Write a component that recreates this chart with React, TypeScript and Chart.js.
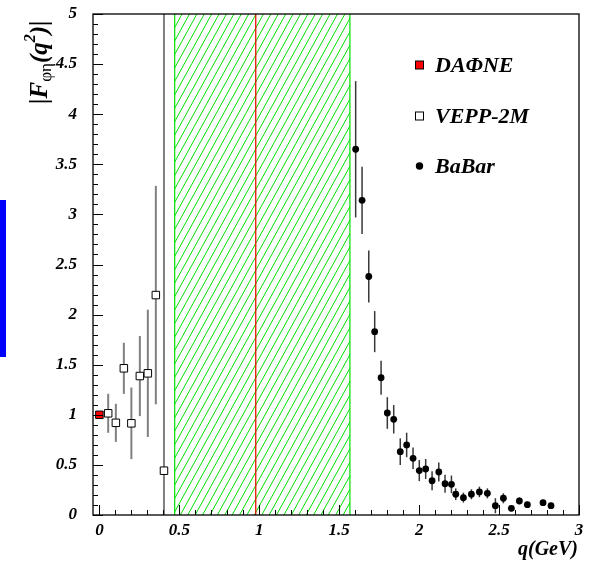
import React, { useEffect, useRef } from "react";
import { Chart, registerables } from "chart.js";

Chart.register(...registerables);

// Axis tick values
const X_TICKS = [0, 0.5, 1, 1.5, 2, 2.5, 3];
const Y_TICKS = [0, 0.5, 1, 1.5, 2, 2.5, 3, 3.5, 4, 4.5, 5];

// Kinematic region (hatched band) and the red reference line
const BAND_Q = [0.471, 1.567];
const RED_LINE_Q = 0.978;

// DAΦNE
const DAFNE_Q = [0];
const DAFNE_F = [1.0];
const DAFNE_ERR = [0.02];

// VEPP-2M
const VEPP_Q = [0.055, 0.103, 0.153, 0.2, 0.253, 0.303, 0.353, 0.404];
const VEPP_F = [1.015, 0.92, 1.464, 0.915, 1.387, 1.414, 2.195, 0.442];
const VEPP_ERR = [0.195, 0.19, 0.255, 0.357, 0.4, 0.635, 1.09, 5.0];

// BaBar
const BABAR_Q = [
  1.603, 1.643, 1.685, 1.722, 1.762, 1.801, 1.841, 1.882, 1.922, 1.962, 2.001,
  2.041, 2.081, 2.123, 2.162, 2.202, 2.229, 2.277, 2.327, 2.377, 2.427, 2.477,
  2.527, 2.577, 2.627, 2.677, 2.775, 2.825,
];
const BABAR_F = [
  3.65, 3.14, 2.38, 1.83, 1.37, 1.018, 0.955, 0.632, 0.699, 0.566, 0.443,
  0.459, 0.342, 0.429, 0.312, 0.306, 0.207, 0.173, 0.207, 0.23, 0.216, 0.093,
  0.167, 0.067, 0.14, 0.103, 0.123, 0.093,
];
const BABAR_ERR = [
  0.68, 0.335, 0.26, 0.205, 0.17, 0.158, 0.142, 0.133, 0.122, 0.108, 0.105,
  0.1, 0.095, 0.095, 0.09, 0.088, 0.058, 0.05, 0.05, 0.053, 0.05, 0.075,
  0.05, 0.03, 0.035, 0.03, 0.03, 0.03,
];

const SERIF = '"Liberation Serif", "Times New Roman", serif';
const TICK_FONT = { family: SERIF, size: 17, style: "italic" as const, weight: "bold" as const };

const toPoints = (xs: number[], ys: number[]) => xs.map((x, i) => ({ x, y: ys[i] }));

const ERRORS: { [label: string]: { err: number[]; color: string; width: number } } = {
  "DAΦNE": { err: DAFNE_ERR, color: "#606060", width: 1.5 },
  "VEPP-2M": { err: VEPP_ERR, color: "#808080", width: 2 },
  BaBar: { err: BABAR_ERR, color: "#383838", width: 1.5 },
};

const decorPlugin = {
  id: "decor",
  beforeDatasetsDraw(chart: any) {
    const { ctx, chartArea: a, scales } = chart;
    const xs = scales.x;
    const ys = scales.y;
    ctx.save();
    ctx.beginPath();
    ctx.rect(a.left, a.top, a.right - a.left, a.bottom - a.top);
    ctx.clip();

    // hatched band
    const bx0 = xs.getPixelForValue(BAND_Q[0]);
    const bx1 = xs.getPixelForValue(BAND_Q[1]);
    ctx.save();
    ctx.beginPath();
    ctx.rect(bx0, a.top, bx1 - bx0, a.bottom - a.top);
    ctx.clip();
    ctx.strokeStyle = "#00e000";
    ctx.lineWidth = 1;
    const h = a.bottom - a.top;
    const slant = h * 0.55;
    for (let x = bx0 - slant; x < bx1 + 8; x += 7.4) {
      ctx.beginPath();
      ctx.moveTo(x, a.bottom);
      ctx.lineTo(x + slant, a.top);
      ctx.stroke();
    }
    ctx.restore();
    ctx.strokeStyle = "#00e000";
    ctx.lineWidth = 1.2;
    ctx.beginPath();
    ctx.moveTo(bx0, a.top);
    ctx.lineTo(bx0, a.bottom);
    ctx.moveTo(bx1, a.top);
    ctx.lineTo(bx1, a.bottom);
    ctx.stroke();

    // red line
    const rx = xs.getPixelForValue(RED_LINE_Q);
    ctx.strokeStyle = "#e81000";
    ctx.lineWidth = 1.3;
    ctx.beginPath();
    ctx.moveTo(rx, a.top);
    ctx.lineTo(rx, a.bottom);
    ctx.stroke();

    // error bars
    chart.data.datasets.forEach((ds: any) => {
      const e = ERRORS[ds.label];
      if (!e) return;
      ctx.strokeStyle = e.color;
      ctx.lineWidth = e.width;
      ds.data.forEach((p: any, i: number) => {
        const px = xs.getPixelForValue(p.x);
        ctx.beginPath();
        ctx.moveTo(px, ys.getPixelForValue(p.y - e.err[i]));
        ctx.lineTo(px, ys.getPixelForValue(p.y + e.err[i]));
        ctx.stroke();
      });
    });
    ctx.restore();
  },
  afterDatasetsDraw(chart: any) {
    const { ctx, chartArea: a, scales } = chart;
    const xs = scales.x;
    const ys = scales.y;
    ctx.save();

    // frame
    ctx.strokeStyle = "#000";
    ctx.lineWidth = 1.3;
    ctx.strokeRect(a.left, a.top, a.right - a.left, a.bottom - a.top);

    // inward ticks
    ctx.lineWidth = 1;
    ctx.beginPath();
    for (let k = 0; k <= 50; k++) {
      const v = k / 10;
      const py = Math.round(ys.getPixelForValue(v)) + 0.5;
      const len = k % 5 === 0 ? 10 : 5;
      ctx.moveTo(a.left, py);
      ctx.lineTo(a.left + len, py);
    }
    for (let k = 0; k <= 30; k++) {
      const v = k / 10;
      const px = Math.round(xs.getPixelForValue(v)) + 0.5;
      const len = k % 5 === 0 ? 10 : 5;
      ctx.moveTo(px, a.bottom);
      ctx.lineTo(px, a.bottom - len);
    }
    ctx.stroke();

    // legend
    const legendFont = `italic bold 22px ${SERIF}`;
    const items = [
      { label: "DAΦNE", y: 72, kind: "red" },
      { label: "VEPP-2M", y: 123, kind: "open" },
      { label: "BaBar", y: 173, kind: "dot" },
    ];
    items.forEach((it) => {
      const cy = it.y - 7.5;
      if (it.kind === "dot") {
        ctx.fillStyle = "#000";
        ctx.beginPath();
        ctx.arc(419.5, cy + 0.5, 3.7, 0, Math.PI * 2);
        ctx.fill();
      } else {
        ctx.fillStyle = it.kind === "red" ? "#ff0000" : "#ffffff";
        ctx.fillRect(415.5, cy - 3.5, 8, 8);
        ctx.strokeStyle = "#000";
        ctx.lineWidth = 1;
        ctx.strokeRect(415.5, cy - 3.5, 8, 8);
      }
      ctx.fillStyle = "#000";
      ctx.font = legendFont;
      ctx.textAlign = "left";
      ctx.textBaseline = "alphabetic";
      ctx.fillText(it.label, 435, it.y);
    });

    // x axis title
    ctx.font = `italic bold 20px ${SERIF}`;
    ctx.textAlign = "right";
    ctx.fillText("q(GeV)", 578, 555);

    // y axis title: |F_φη(q²)|
    ctx.translate(47, 104);
    ctx.rotate(-Math.PI / 2);
    ctx.textAlign = "left";
    const big = `italic bold 25px ${SERIF}`;
    const small = `17px ${SERIF}`;
    const smallBold = `italic bold 16px ${SERIF}`;
    let x = 0;
    const put = (t: string, f: string, dy: number) => {
      ctx.font = f;
      ctx.fillText(t, x, dy);
      x += ctx.measureText(t).width;
    };
    put("|F", big, 0);
    put("φη", small, 4);
    put("(q", big, 0);
    put("2", smallBold, -12);
    put(")|", big, 0);
    ctx.restore();

    // blue marker strip at the left edge
    ctx.save();
    ctx.fillStyle = "#0000ff";
    ctx.fillRect(0, 200, 6, 157);
    ctx.restore();
  },
};

export default function App() {
  const ref = useRef<HTMLCanvasElement | null>(null);

  useEffect(() => {
    document.body.style.margin = "0";
    document.body.style.overflow = "hidden";
    const canvas = ref.current;
    if (!canvas) return;
    const chart = new Chart(canvas, {
      type: "scatter",
      data: {
        datasets: [
          {
            label: "DAΦNE",
            data: toPoints(DAFNE_Q, DAFNE_F),
            pointStyle: "rect",
            pointRadius: 5.3,
            backgroundColor: "#ff0000",
            borderColor: "#000000",
            borderWidth: 1,
          },
          {
            label: "VEPP-2M",
            data: toPoints(VEPP_Q, VEPP_F),
            pointStyle: "rect",
            pointRadius: 5.3,
            backgroundColor: "#ffffff",
            borderColor: "#000000",
            borderWidth: 1,
          },
          {
            label: "BaBar",
            data: toPoints(BABAR_Q, BABAR_F),
            pointStyle: "circle",
            pointRadius: 3.4,
            backgroundColor: "#000000",
            borderColor: "#000000",
            borderWidth: 0,
          },
        ],
      },
      options: {
        animation: false,
        responsive: false,
        devicePixelRatio: 1,
        layout: { padding: { left: 0, right: 13, top: 14, bottom: 0 } },
        plugins: { legend: { display: false }, tooltip: { enabled: false } },
        scales: {
          x: {
            type: "linear",
            min: -0.04,
            max: 3.0,
            afterBuildTicks: (s: any) => {
              s.ticks = X_TICKS.map((v) => ({ value: v }));
            },
            afterFit: (s: any) => {
              s.height = 46;
              s.paddingLeft = 0;
              s.paddingRight = 0;
            },
            ticks: {
              font: TICK_FONT,
              color: "#000",
              padding: 5,
              maxRotation: 0,
              autoSkip: false,
              callback: (v: any) => String(v),
            },
            grid: { display: false, drawTicks: false },
            border: { display: false },
          },
          y: {
            type: "linear",
            min: 0,
            max: 5,
            afterBuildTicks: (s: any) => {
              s.ticks = Y_TICKS.map((v) => ({ value: v }));
            },
            afterFit: (s: any) => {
              s.width = 93;
              s.paddingTop = 0;
              s.paddingBottom = 0;
            },
            ticks: {
              font: TICK_FONT,
              color: "#000",
              padding: 16,
              autoSkip: false,
              callback: (v: any) => String(v),
            },
            grid: { display: false, drawTicks: false },
            border: { display: false },
          },
        },
      },
      plugins: [decorPlugin],
    });
    return () => chart.destroy();
  }, []);

  return (
    <div style={{ width: 592, height: 561, background: "#fff" }}>
      <canvas ref={ref} width={592} height={561} />
    </div>
  );
}
